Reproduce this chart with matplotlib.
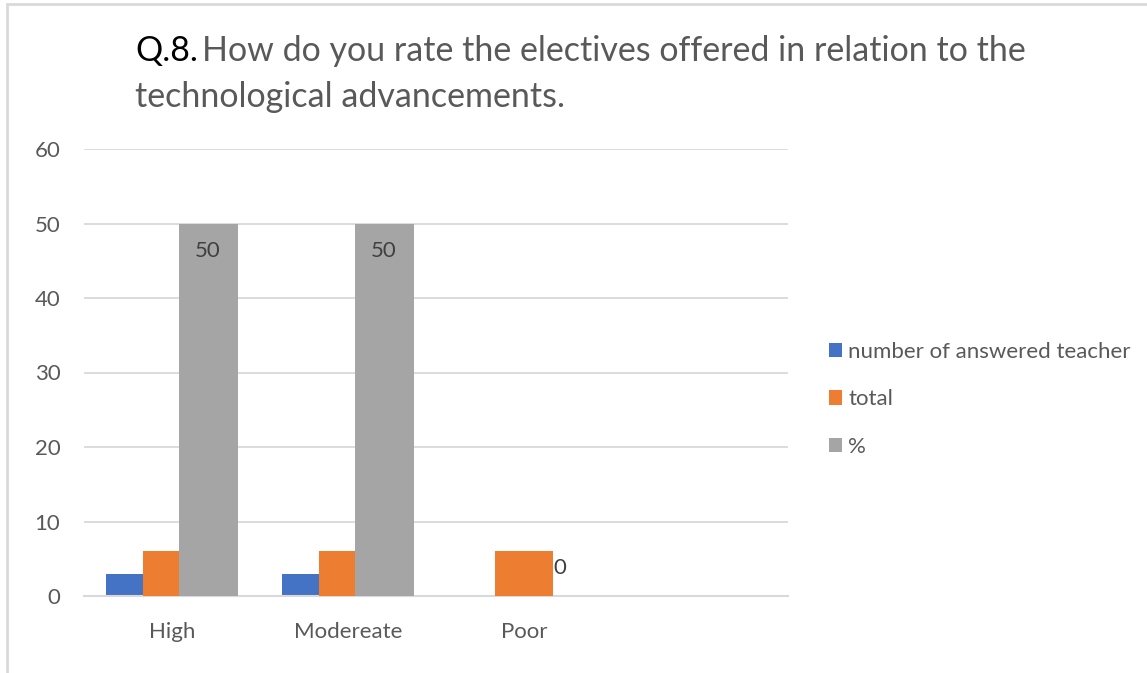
import numpy as np
import matplotlib
matplotlib.use("Agg")
import matplotlib.pyplot as plt
from matplotlib.patches import Rectangle

categorias = ['High', 'Modereate', 'Poor']
answered = [3, 3, 0]
total = [6, 6, 6]
percent = [50, 50, 0]
series_names = ['number of answered teacher', 'total', '%']
cores = ['#4472C4', '#ED7D31', '#A5A5A5']

plt.rcParams['font.family'] = ['Lato', 'DejaVu Sans']
txt_cor = '#595959'

fig = plt.figure(figsize=(11.47, 6.73), dpi=100)
ax = fig.add_axes([84 / 1147, 1 - 596 / 673, 704 / 1147, 447 / 673])

x = np.arange(len(categorias))
passo = 0.205
largura = 0.335
for i, (vals, nome, cor) in enumerate(zip([answered, total, percent], series_names, cores)):
    ax.bar(x + (i - 1) * passo, vals, largura, color=cor, label=nome, zorder=2 + i)

# rotulos do %
for xi, v in zip(x + passo, percent):
    off = -20 if v > 0 else 20
    ax.annotate(str(v), (xi, v), xytext=(0, off), textcoords='offset points',
                ha='center', va='center', fontsize=16, color='#404040', zorder=10)

ax.set_xlim(-0.5, 3.5)
ax.set_ylim(0, 60)
ax.set_yticks(range(0, 61, 10))
ax.set_xticks(x)
ax.set_xticklabels(categorias)
ax.grid(axis='y', color='#d9d9d9', linewidth=1.3, zorder=0)
ax.set_axisbelow(True)
for s in ['top', 'right', 'left']:
    ax.spines[s].set_visible(False)
ax.spines['bottom'].set_color('#d9d9d9')
ax.spines['bottom'].set_linewidth(1.5)
ax.tick_params(axis='both', length=0, labelsize=16, labelcolor=txt_cor)
ax.tick_params(axis='y', pad=17)
ax.tick_params(axis='x', pad=19)

ax.legend(loc='center left', bbox_to_anchor=(1.03, 0.44), frameon=False,
          fontsize=16, labelcolor=txt_cor, handlelength=0.6, handleheight=0.6,
          handletextpad=0.25, labelspacing=1.25)

# titulo em duas cores
t1 = fig.text(135 / 1147, 1 - 51 / 673, 'Q.8.', fontsize=24.5, color='black', va='center')
fig.canvas.draw()
bb = t1.get_window_extent()
fig.text(bb.x1 / 1147 + 0.004, 1 - 51 / 673, 'How do you rate the electives offered in relation to the',
         fontsize=24.5, color=txt_cor, va='center')
fig.text(135 / 1147, 1 - 97 / 673, 'technological advancements.', fontsize=24.5, color=txt_cor, va='center')

# borda do grafico
fig.patches.append(Rectangle((7 / 1147, -0.1), 1.2, 1 - 4 / 673 + 0.1, transform=fig.transFigure,
                             fill=False, edgecolor='#d9d9d9', linewidth=2))

fig.savefig('out.png', dpi=100)
